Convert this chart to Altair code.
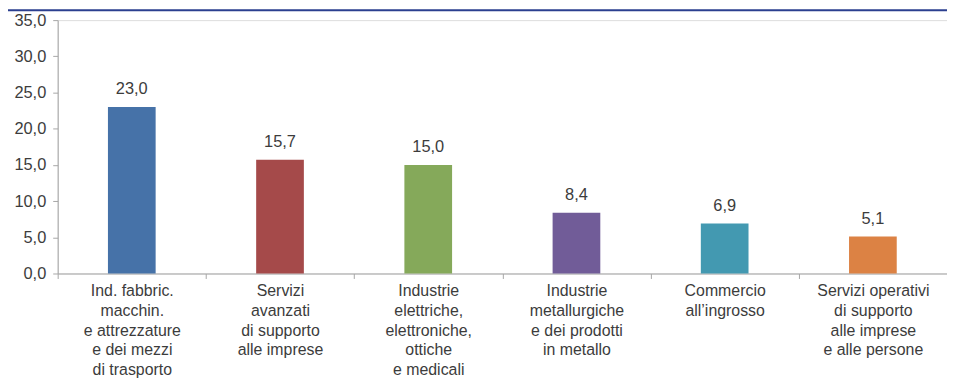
import altair as alt
import pandas as pd

categories = [
    "Ind. fabbric.|macchin.|e attrezzature|e dei mezzi|di trasporto",
    "Servizi|avanzati|di supporto|alle imprese",
    "Industrie|elettriche,|elettroniche,|ottiche|e medicali",
    "Industrie|metallurgiche|e dei prodotti|in metallo",
    "Commercio|all\u2019ingrosso",
    "Servizi operativi|di supporto|alle imprese|e alle persone",
]
values = [23.0, 15.7, 15.0, 8.4, 6.9, 5.1]
colors = ["#4672A8", "#A54A4A", "#85A95A", "#715C98", "#4399B1", "#DC8244"]
y_ticks = [0, 5, 10, 15, 20, 25, 30, 35]

df = pd.DataFrame({"cat": categories, "val": values, "col": colors})

W = 895
H = 255
TOP = 11
FONT = "Liberation Sans"
TXT = "#3c3c3c"
FS = 16.5

base = alt.Chart(df)

x_axis = alt.Axis(
    title=None,
    labelAngle=0,
    labelExpr="split(datum.label, '|')",
    labelLineHeight=20,
    labelFontSize=16,
    labelFont=FONT,
    labelColor=TXT,
    labelPadding=4,
    labelBaseline="top",
    labelOverlap=False,
    tickBand="extent",
    tickSize=5,
    tickColor="#a6a6a6",
    domainColor="#a6a6a6",
    labelAlign="center",
)
x_scale = alt.Scale(paddingInner=0, paddingOuter=0)

y_axis = alt.Axis(
    title=None,
    values=y_ticks,
    labelExpr="replace(format(datum.value, '.1f'), '.', ',')",
    labelFontSize=FS,
    labelFont=FONT,
    labelColor=TXT,
    labelPadding=7,
    labelOverlap=False,
    labelFlush=False,
    tickSize=5,
    tickColor="#a6a6a6",
    domainColor="#a6a6a6",
    grid=False,
)
y_scale = alt.Scale(domain=[0, 35], nice=False)

bars = base.mark_bar(size=48).encode(
    x=alt.X("cat:N", sort=categories, scale=x_scale, axis=x_axis),
    y=alt.Y("val:Q", scale=y_scale, axis=y_axis),
    color=alt.Color("col:N", scale=None),
)

labels = base.transform_calculate(
    lab="replace(format(datum.val, '.1f'), '.', ',')"
).mark_text(dy=-10, baseline="bottom", fontSize=FS, font=FONT, color=TXT).encode(
    x=alt.X("cat:N", sort=categories, scale=x_scale, axis=x_axis),
    y=alt.Y("val:Q", scale=y_scale, axis=y_axis),
    text="lab:N",
)

topline = alt.Chart(pd.DataFrame({"a": [0]})).mark_rule(
    color="#2B3F8F", strokeWidth=2
).encode(
    x=alt.value(-50), x2=alt.value(W + 2), y=alt.value(-TOP + 1), y2=alt.value(-TOP + 1)
)

chart = (
    alt.layer(topline, bars, labels)
    .properties(
        width=W,
        height=H,
        autosize=alt.AutoSizeParams(type="none"),
        padding={"top": TOP, "left": 50, "right": 0, "bottom": 375 - TOP - H},
    )
    .configure_view(stroke="transparent")
    .configure(background="white")
)

chart.save("out.html", embed_options={"renderer": "svg", "actions": False})
